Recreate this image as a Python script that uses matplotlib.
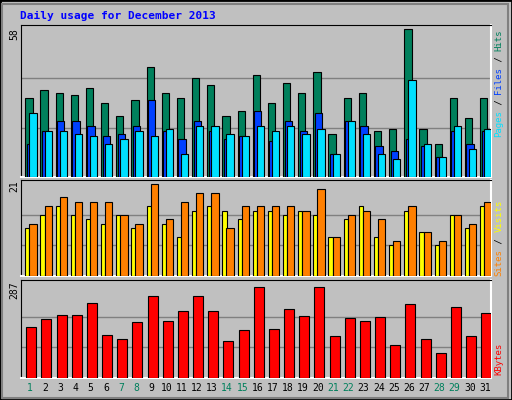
import matplotlib
matplotlib.use("Agg")
import matplotlib.pyplot as plt
import numpy as np

days = list(range(1, 32))
weekends = [1, 7, 8, 14, 15, 21, 22, 28, 29]
hits = [31, 34, 33, 32, 35, 29, 24, 30, 43, 33, 31, 39, 36, 24, 26, 40,
        29, 37, 33, 41, 17, 31, 33, 18, 19, 58, 19, 13, 31, 23, 31]
files = [13, 18, 22, 22, 20, 16, 17, 20, 30, 18, 15, 22, 18, 15, 16, 26,
         14, 22, 18, 25, 9, 22, 20, 12, 10, 15, 12, 8, 18, 13, 18]
pages = [25, 18, 18, 17, 16, 13, 15, 18, 16, 19, 9, 20, 20, 17, 16, 20,
         18, 20, 17, 19, 9, 22, 17, 9, 7, 38, 13, 8, 20, 11, 19]
sites = [11, 14, 16, 14, 13, 12, 14, 11, 16, 12, 9, 15, 16, 15, 13, 15,
         15, 14, 15, 14, 9, 13, 16, 9, 7, 15, 10, 7, 14, 11, 16]
visits = [12, 16, 18, 17, 17, 17, 14, 12, 21, 13, 17, 19, 19, 11, 16, 16,
          16, 16, 15, 20, 9, 14, 15, 13, 8, 16, 10, 8, 14, 12, 17]
kbytes = [161, 186, 199, 199, 237, 136, 123, 177, 256, 180, 209, 259, 209, 117, 151, 287,
          155, 218, 196, 287, 132, 189, 180, 192, 104, 233, 123, 79, 224, 132, 205]

W, H = 512, 400
bg = "#c0c0c0"
c_hits, c_files, c_pages = "#00805c", "#0040ff", "#00e0ff"
c_sites, c_visits, c_kb = "#ffff00", "#ff8000", "#ff0000"

fig = plt.figure(figsize=(W / 100, H / 100), dpi=100, facecolor=bg)
# outer border
fig.patches.append(plt.Rectangle((0, 0), 1, 1, transform=fig.transFigure,
                                 fill=False, edgecolor="black", lw=2))
fig.patches.append(plt.Rectangle((2 / W, 2 / H), 1 - 6 / W, 1 - 6 / H, transform=fig.transFigure,
                                 fill=False, edgecolor="#808080", lw=1.5))


def box(top, bottom):
    ax = fig.add_axes([20.7 / W, 1 - bottom / H, 470 / W, (bottom - top) / H])
    ax.set_facecolor(bg)
    ax.set_xlim(0, 31)
    ax.set_xticks([])
    ax.set_yticks([])
    for s in ["left", "top"]:
        ax.spines[s].set_color("black")
    for s in ["right", "bottom"]:
        ax.spines[s].set_color("white")
        ax.spines[s].set_linewidth(1.5)
    return ax


x0 = np.arange(31)
kw = dict(align="edge", edgecolor="black", linewidth=0.8, zorder=3)

ax1 = box(24.7, 177)
ax1.set_ylim(0, 59.7)
for g in [58 / 3, 58 * 2 / 3]:
    ax1.axhline(g, color="#808080", lw=1, zorder=1)
ax1.bar(x0 + 0.30, hits, 0.48, color=c_hits, **kw)
ax1.bar(x0 + 0.40, files, 0.48, color=c_files, **kw)
ax1.bar(x0 + 0.57, pages, 0.48, color=c_pages, **kw)

ax2 = box(180, 276)
ax2.set_ylim(0, 22)
for g in [7, 14]:
    ax2.axhline(g, color="#808080", lw=1, zorder=1)
ax2.bar(x0 + 0.30, sites, 0.28, color=c_sites, **kw)
ax2.bar(x0 + 0.57, visits, 0.48, color=c_visits, **kw)

ax3 = box(280, 377.7)
ax3.set_ylim(0, 308)
for g in [287 / 3, 287 * 2 / 3]:
    ax3.axhline(g, color="#808080", lw=1, zorder=1)
ax3.bar(x0 + 0.37, kbytes, 0.66, color=c_kb, **kw)


def txt(x, y, s, **k):
    fig.text(x / W, 1 - y / H, s, family="DejaVu Sans Mono", **k)


txt(20, 16, "Daily usage for December 2013", color="#0000ff", fontsize=8,
    fontweight="bold", va="center", ha="left")
for yy, lab in [(34, "58"), (186, "21"), (290, "287")]:
    txt(14, yy, lab, rotation=90, fontsize=7, va="center", ha="center", color="black")

# day labels
slot = 470 / 31
for i, d in enumerate(days):
    txt(20.7 + (i + 0.62) * slot, 388, str(d), fontsize=7, ha="center", va="center",
        color=c_hits if d in weekends else "black")


def vlabel(ybottom, step, parts):
    n = 0
    for s, c in parts:
        txt(499, ybottom - (n + len(s) / 2) * step, s, rotation=90, fontsize=6.5,
            color=c, ha="center", va="center")
        n += len(s)


vlabel(137, 5.4, [("Pages", c_pages), (" / ", "black"), ("Files", c_files),
                  (" / ", "black"), ("Hits", c_hits)])
vlabel(277, 5.6, [("Sites", c_visits), (" / ", "black"), ("Visits", c_sites)])
vlabel(377, 6.0, [("KBytes", c_kb)])

fig.savefig("out.png", dpi=100, facecolor=bg)
